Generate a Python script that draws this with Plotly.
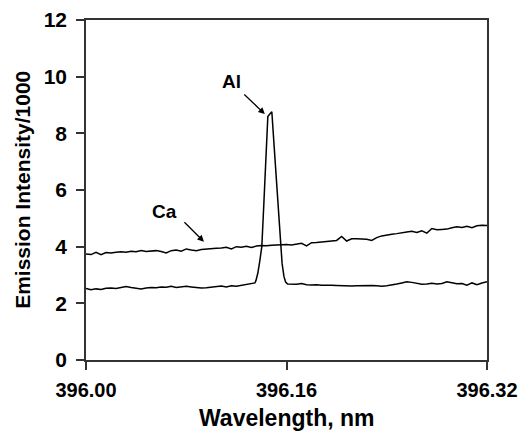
import plotly.graph_objects as go

# Ca emission trace (wavelength nm, intensity/1000)
ca_wavelength = [round(396.0 + i * 0.004, 3) for i in range(81)]
ca_intensity = [
    3.74, 3.72, 3.80, 3.72, 3.79, 3.78, 3.80, 3.82, 3.80, 3.84,
    3.82, 3.86, 3.83, 3.85, 3.86, 3.83, 3.78, 3.86, 3.88, 3.84,
    3.92, 3.88, 3.86, 3.90, 3.92, 3.93, 3.94, 3.95, 3.98, 3.92,
    4.00, 3.98, 4.01, 3.97, 4.02, 4.04, 4.03, 4.05, 4.06, 4.07,
    4.08, 4.06, 4.10, 4.12, 4.03, 4.14, 4.15, 4.16, 4.18, 4.20,
    4.22, 4.36, 4.20, 4.28, 4.28, 4.27, 4.26, 4.22, 4.32, 4.38,
    4.42, 4.44, 4.46, 4.50, 4.52, 4.54, 4.50, 4.56, 4.48, 4.64,
    4.60, 4.61, 4.62, 4.67, 4.70, 4.68, 4.72, 4.67, 4.74, 4.76,
    4.75,
]

# Al emission trace
al_wavelength = (
    [round(396.0 + i * 0.004, 3) for i in range(34)]
    + [396.1348, 396.1356, 396.1371, 396.1387, 396.1403, 396.1419, 396.1435,
       396.1451, 396.1467, 396.1483, 396.1499, 396.1515, 396.1531, 396.1547,
       396.1553, 396.1565, 396.1580, 396.1593, 396.1609]
    + [round(396.164 + i * 0.004, 3) for i in range(40)]
)
al_intensity = (
    [2.52, 2.48, 2.51, 2.49, 2.53, 2.54, 2.52, 2.56, 2.59, 2.56,
     2.53, 2.51, 2.54, 2.56, 2.55, 2.58, 2.57, 2.60, 2.56, 2.59,
     2.60, 2.58, 2.56, 2.54, 2.55, 2.57, 2.59, 2.61, 2.58, 2.62,
     2.60, 2.63, 2.66, 2.70]
    + [2.72, 2.80, 3.06, 3.50, 4.00, 5.50, 7.10, 8.59, 8.68, 8.76,
       7.70, 6.70, 5.60, 4.50, 4.06, 3.40, 2.94, 2.75, 2.68]
    + [2.68, 2.67, 2.70, 2.66, 2.65, 2.66, 2.64, 2.65, 2.64, 2.63,
       2.62, 2.60, 2.61, 2.62, 2.63, 2.64, 2.63, 2.62, 2.60, 2.62,
       2.64, 2.68, 2.72, 2.76, 2.74, 2.70, 2.67, 2.68, 2.71, 2.68,
       2.70, 2.76, 2.72, 2.69, 2.70, 2.64, 2.72, 2.66, 2.72, 2.76]
)

x_ticks = [396.00, 396.16, 396.32]
x_tick_labels = ["396.00", "396.16", "396.32"]
y_ticks = [0, 2, 4, 6, 8, 10, 12]

FONT = "Liberation Sans, Arial, sans-serif"

fig = go.Figure()
fig.add_trace(go.Scatter(x=ca_wavelength, y=ca_intensity, mode="lines",
                         line=dict(color="black", width=1.5), name="Ca"))
fig.add_trace(go.Scatter(x=al_wavelength, y=al_intensity, mode="lines",
                         line=dict(color="black", width=1.5), name="Al"))

# Labels and arrows
fig.add_annotation(x=396.1162, y=9.82, text="<b>Al</b>", showarrow=False,
                   font=dict(size=19, family=FONT, color="black"))
fig.add_annotation(x=396.1427, y=8.68, text="", showarrow=True, ax=-22, ay=-21,
                   arrowhead=2, arrowsize=1, arrowwidth=1.3, arrowcolor="black")
fig.add_annotation(x=396.063, y=5.23, text="<b>Ca</b>", showarrow=False,
                   font=dict(size=19, family=FONT, color="black"))
fig.add_annotation(x=396.0941, y=4.175, text="", showarrow=True, ax=-21, ay=-21,
                   arrowhead=2, arrowsize=1, arrowwidth=1.3, arrowcolor="black")

# Axis titles
fig.add_annotation(xref="paper", yref="paper", x=0.5, y=-0.172,
                   xanchor="center", yanchor="middle",
                   text="<b>Wavelength, nm</b>", showarrow=False,
                   font=dict(size=23, family=FONT, color="black"))
fig.add_annotation(xref="paper", yref="paper", x=-0.16, y=0.5, textangle=-90,
                   xanchor="center", yanchor="middle",
                   text="<b>Emission Intensity/1000</b>", showarrow=False,
                   font=dict(size=21, family=FONT, color="black"))

axis_common = dict(showgrid=False, zeroline=False, showline=True, mirror=True,
                   linecolor="#333", linewidth=1.5, ticks="outside", ticklen=8,
                   tickwidth=1.5, tickcolor="#333", automargin=False,
                   ticklabeloverflow="allow")

fig.update_layout(
    width=519, height=432,
    margin=dict(l=86, r=32, t=20, b=72),
    paper_bgcolor="white", plot_bgcolor="white",
    showlegend=False,
    xaxis=dict(range=[396.0, 396.32], tickvals=x_ticks, ticktext=x_tick_labels,
               ticklabelstandoff=3,
               tickfont=dict(size=20, family=FONT, color="black", weight="bold"),
               **axis_common),
    yaxis=dict(range=[0, 12], tickvals=y_ticks, ticklabelstandoff=5,
               tickfont=dict(size=21, family=FONT, color="black", weight="bold"),
               **axis_common),
)

fig.write_html(
    "out.html",
    config={"displayModeBar": False},
    post_script="document.body.style.margin='0';"
                "document.documentElement.style.overflow='hidden';"
                "document.body.style.overflow='hidden';",
)
